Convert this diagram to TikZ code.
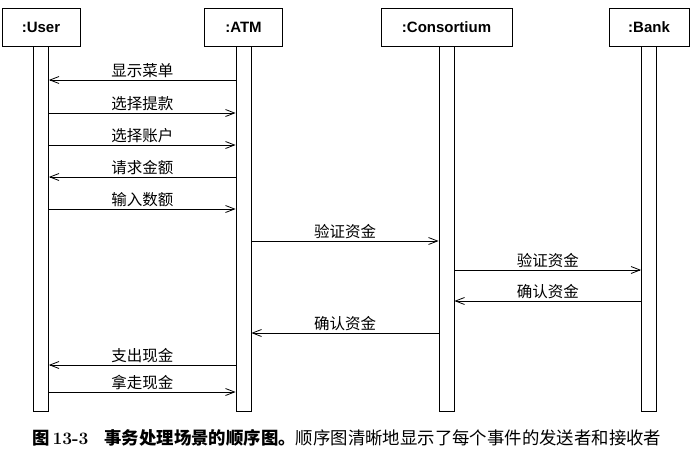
\documentclass[tikz,border=0pt]{standalone}
\usepackage{fontspec}
\setsansfont{Liberation Sans}
\newfontfamily\cjk{Noto Sans CJK SC}
\usetikzlibrary{positioning,arrows.meta}
\tikzset{
  lifeobj/.style={draw=black, line width=0.8pt, minimum width=78pt, minimum height=38pt,
    inner sep=0pt, font=\sffamily\bfseries\fontsize{15}{18}\selectfont},
  lifebar/.style={draw=black, line width=0.8pt, minimum width=15pt, minimum height=365pt, inner sep=0pt},
  msg/.style={line width=0.8pt, -{Straight Barb[length=9pt,width=7pt]}},
  msglabel/.style={above, inner sep=1.5pt, font=\cjk\fontsize{15.5}{18}\selectfont}
}

\begin{document}
\begin{tikzpicture}[x=1pt, y=-1pt]
    \useasboundingbox (0,0) rectangle (692,463);
    % objects
    \node[lifeobj] (user) at (41,27) {:User};
    \node[lifeobj] (atm) at (243.5,27) {:ATM};
    \node[lifeobj, minimum width=131pt] (cons) at (446.5,27) {:Consortium};
    \node[lifeobj, minimum width=80pt] (bank) at (649,27) {:Bank};

    % activation bars
    \node[lifebar, below=0pt of user] (userbar) {};
    \node[lifebar, below=0pt of atm] (atmbar) {};
    \node[lifebar, below=0pt of cons] (consbar) {};
    \node[lifebar, below=0pt of bank] (bankbar) {};

    % messages
    \draw[msg] (atmbar.west |- 0,80) -- node[msglabel] {显示菜单} (userbar.east |- 0,80);
    \draw[msg] (userbar.east |- 0,113) -- node[msglabel] {选择提款} (atmbar.west |- 0,113);
    \draw[msg] (userbar.east |- 0,145) -- node[msglabel] {选择账户} (atmbar.west |- 0,145);
    \draw[msg] (atmbar.west |- 0,177) -- node[msglabel] {请求金额} (userbar.east |- 0,177);
    \draw[msg] (userbar.east |- 0,209) -- node[msglabel] {输入数额} (atmbar.west |- 0,209);
    \draw[msg] (atmbar.east |- 0,241) -- node[msglabel] {验证资金} (consbar.west |- 0,241);
    \draw[msg] (consbar.east |- 0,270) -- node[msglabel] {验证资金} (bankbar.west |- 0,270);
    \draw[msg] (bankbar.west |- 0,301) -- node[msglabel] {确认资金} (consbar.east |- 0,301);
    \draw[msg] (consbar.west |- 0,333) -- node[msglabel] {确认资金} (atmbar.east |- 0,333);
    \draw[msg] (atmbar.west |- 0,365) -- node[msglabel] {支出现金} (userbar.east |- 0,365);
    \draw[msg] (userbar.east |- 0,392) -- node[msglabel] {拿走现金} (atmbar.west |- 0,392);

    \node[anchor=west, inner sep=0pt, font=\fontsize{17.4}{20}\selectfont] (caption) at (32,438)
      {{\cjk\bfseries 图}\hspace{3pt}{\bfseries 13-3}\hspace{16pt}{\cjk\bfseries 事务处理场景的顺序图。}{\cjk 顺序图清晰地显示了每个事件的发送者和接收者}};
\end{tikzpicture}
\end{document}
